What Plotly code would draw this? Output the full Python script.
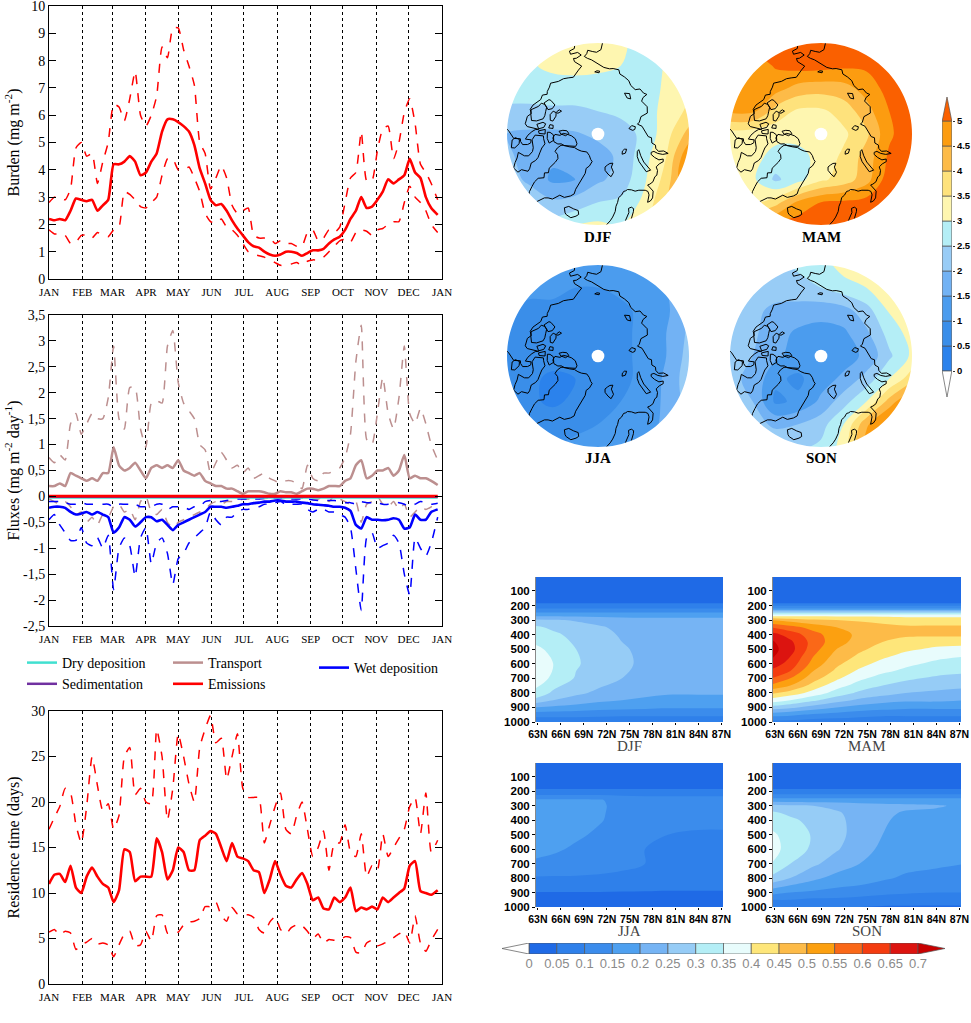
import math
import plotly.graph_objects as go

W, H = 971, 1023
SERIF = "Liberation Serif"
SANS = "Liberation Sans"

# ---------------- time-series data (day of year) ----------------
DAYS = [0, 5, 10, 15, 20, 25, 30, 35, 40, 45, 50, 55, 60, 65, 70, 75, 80, 85, 90, 95,
        100, 105, 110, 115, 120, 125, 130, 135, 140, 145, 150, 155, 160, 165, 170, 175, 180, 185, 190, 195,
        200, 205, 210, 215, 220, 225, 230, 235, 240, 245, 250, 255, 260, 265, 270, 275, 280, 285, 290, 295,
        300, 305, 310, 315, 320, 325, 330, 335, 340, 345, 350, 355, 361]
MONTH_START = [0, 31, 59, 90, 120, 151, 181, 212, 243, 273, 304, 334, 365]
MONTH_LABELS = ["JAN", "FEB", "MAR", "APR", "MAY", "JUN", "JUL", "AUG", "SEP", "OCT", "NOV", "DEC", "JAN"]

BURDEN_MEAN = [2.2, 2.15, 2.2, 2.15, 2.5, 2.95, 2.9, 2.85, 2.9, 2.5,
               2.7, 2.9, 4.2, 4.2, 4.3, 4.5, 4.3, 3.8, 3.9, 4.3,
               4.6, 5.4, 5.85, 5.85, 5.75, 5.6, 5.4, 4.9, 4.05, 3.5,
               2.9, 2.7, 2.75, 2.5, 2.15, 1.85, 1.6, 1.35, 1.2, 1.15,
               1.0, 0.9, 0.85, 0.9, 1.0, 1.0, 0.95, 0.85, 0.95, 1.05,
               1.05, 1.1, 1.3, 1.45, 1.55, 1.8, 2.2, 2.5, 3.0, 2.6,
               2.65, 2.9, 3.2, 3.65, 3.5, 3.65, 3.8, 4.4, 3.9, 3.7,
               3.0, 2.6, 2.35]
BURDEN_HIGH = [2.8, 3.0, 3.0, 2.9, 3.3, 4.8, 5.0, 4.5, 4.6, 3.5,
               4.3, 5.0, 6.4, 6.3, 5.8, 6.6, 7.6, 6.0, 5.6, 6.0,
               6.7, 8.5, 8.1, 9.2, 9.2, 8.4, 7.8, 7.1, 5.0, 4.6,
               3.3, 3.7, 4.15, 3.7, 2.7, 2.4, 2.5, 2.6, 1.6, 1.5,
               1.5, 1.5, 1.3, 1.4, 1.3, 1.3, 1.2, 1.2, 1.7, 1.8,
               1.4, 1.5, 1.8, 1.7, 1.9, 2.8, 3.7, 3.9, 5.4, 3.6,
               3.6, 4.7, 5.5, 5.6, 4.4, 5.0, 6.1, 6.6, 5.7, 4.2,
               3.9, 3.5, 2.9]
BURDEN_LOW = [1.8, 1.65, 1.65, 1.6, 1.3, 1.35, 1.6, 1.6, 1.5, 1.7,
              1.6, 1.55, 1.8, 1.9, 3.2, 3.1, 2.9, 2.65, 2.6, 2.8,
              3.0, 3.8, 4.4, 4.4, 4.0, 4.0, 4.1, 3.7, 3.2, 2.4,
              2.1, 2.05, 2.2, 1.9, 1.8, 1.6, 1.3, 1.0, 0.9, 0.85,
              0.8, 0.7, 0.6, 0.5, 0.5, 0.55, 0.6, 0.5, 0.65, 0.7,
              0.7, 0.8, 1.0, 1.2, 1.4, 1.45, 1.35, 1.7, 1.8, 1.75,
              1.6, 1.8, 1.85, 2.0, 2.1, 2.1, 2.8, 3.4, 3.0, 2.8,
              2.5, 2.0, 1.7]

TRANSPORT_MEAN = [0.2, 0.2, 0.25, 0.2, 0.45, 0.4, 0.35, 0.3, 0.35, 0.3,
                  0.45, 0.45, 0.95, 0.6, 0.5, 0.55, 0.65, 0.5, 0.35, 0.55,
                  0.6, 0.55, 0.6, 0.55, 0.7, 0.5, 0.45, 0.4, 0.45, 0.3,
                  0.25, 0.2, 0.2, 0.15, 0.15, 0.1, 0.05, 0.1, 0.1, 0.1,
                  0.08, 0.05, 0.05, 0.1, 0.08, 0.08, 0.05, 0.1, 0.15, 0.15,
                  0.12, 0.15, 0.2, 0.2, 0.2, 0.3, 0.35, 0.6, 0.7, 0.35,
                  0.4, 0.5, 0.5, 0.55, 0.4, 0.5, 0.8, 0.35, 0.4, 0.35,
                  0.35, 0.3, 0.22]
TRANSPORT_HIGH = [0.75, 0.65, 0.8, 0.7, 1.4, 1.6, 1.2, 1.4, 1.6, 1.5,
                  1.5, 1.9, 2.9, 1.5, 1.3, 2.1, 2.1, 1.3, 0.95, 1.8,
                  1.85, 1.8, 2.9, 3.2, 2.2, 1.8, 1.65, 1.5, 1.0, 0.9,
                  0.45, 0.65, 0.85, 0.7, 0.55, 0.6, 0.45, 0.55, 0.35, 0.4,
                  0.45, 0.35, 0.3, 0.25, 0.3, 0.3, 0.25, 0.15, 0.6, 0.35,
                  0.3, 0.45, 0.45, 0.5, 0.55, 0.75, 1.2, 2.6, 3.3, 1.1,
                  1.0, 1.6, 2.3, 1.6, 1.3, 1.9, 2.9, 1.6, 1.4, 1.7,
                  1.4, 1.0, 0.7]
TRANSPORT_LOW = [-0.05, -0.1, -0.15, -0.1, -0.2, -0.35, -0.3, -0.5, -0.4, -0.55,
                 -0.35, -0.4, -0.2, -0.15, -0.3, -0.25, -0.45, -0.1, 0.0, -0.3,
                 -0.35, -0.25, -0.5, -0.6, -0.5, -0.45, -0.4, -0.35, -0.3, -0.25,
                 -0.15, -0.1, -0.15, -0.1, -0.1, -0.1, -0.05, -0.05, -0.05, -0.05,
                 -0.04, -0.03, -0.03, -0.03, -0.02, -0.04, -0.05, -0.03, -0.08, -0.05,
                 -0.05, 0.0, -0.1, 0.02, -0.05, -0.1, -0.15, -0.1, -0.5, -0.15,
                 -0.1, 0.0, -0.15, -0.2, -0.1, -0.25, -0.15, -0.4, -0.3, -0.2,
                 -0.25, -0.2, -0.1]
WET_MEAN = [-0.22, -0.2, -0.2, -0.22, -0.3, -0.35, -0.33, -0.3, -0.35, -0.3,
            -0.35, -0.4, -0.7, -0.6, -0.4, -0.45, -0.58, -0.5, -0.4, -0.4,
            -0.48, -0.45, -0.55, -0.65, -0.55, -0.5, -0.45, -0.4, -0.35, -0.3,
            -0.2, -0.2, -0.2, -0.22, -0.2, -0.18, -0.15, -0.15, -0.13, -0.12,
            -0.1, -0.1, -0.08, -0.08, -0.1, -0.1, -0.1, -0.12, -0.13, -0.15,
            -0.16, -0.17, -0.18, -0.2, -0.2, -0.22, -0.28, -0.55, -0.62, -0.4,
            -0.45, -0.45, -0.46, -0.45, -0.42, -0.45, -0.62, -0.6, -0.35, -0.45,
            -0.45, -0.3, -0.25]
WET_HIGH = [-0.1, -0.1, -0.1, -0.12, -0.15, -0.15, -0.12, -0.15, -0.15, -0.15,
            -0.15, -0.15, -0.2, -0.15, -0.15, -0.15, -0.15, -0.2, -0.2, -0.2,
            -0.15, -0.15, -0.25, -0.2, -0.2, -0.2, -0.25, -0.2, -0.2, -0.1,
            -0.08, -0.08, -0.1, -0.08, -0.06, -0.05, -0.05, -0.05, -0.05, -0.05,
            -0.04, -0.03, -0.03, -0.03, -0.04, -0.05, -0.05, -0.05, -0.05, -0.07,
            -0.08, -0.08, -0.08, -0.08, -0.1, -0.12, -0.12, -0.15, -0.1, -0.12,
            -0.12, -0.12, -0.15, -0.15, -0.12, -0.12, -0.15, -0.2, -0.15, -0.1,
            -0.12, -0.15, -0.13]
WET_LOW = [-0.45, -0.35, -0.55, -0.7, -0.85, -0.85, -0.6, -0.9, -0.95, -0.8,
           -1.0, -0.75, -1.8, -1.0, -0.8, -0.95, -1.55, -0.8, -0.6, -1.3,
           -0.9, -0.8, -1.1, -1.7, -1.2, -1.1, -0.9, -0.8, -0.7, -0.6,
           -0.3, -0.45, -0.55, -0.4, -0.4, -0.3, -0.25, -0.25, -0.2, -0.2,
           -0.15, -0.15, -0.12, -0.1, -0.15, -0.15, -0.15, -0.15, -0.25, -0.3,
           -0.25, -0.25, -0.3, -0.3, -0.35, -0.4, -0.6, -1.4, -2.2, -0.8,
           -0.7, -1.0, -0.95, -0.9, -0.75, -0.9, -1.5, -1.9, -0.8, -1.0,
           -1.15, -0.9, -0.4]
MONTHLY_DAYS = [0, 31, 59, 90, 120, 151, 181, 212, 243, 273, 304, 334, 361]
DRY_DEP = [-0.02, -0.02, -0.02, -0.02, -0.02, -0.015, -0.01, -0.01, -0.015, -0.02, -0.02, -0.02, -0.02]
SEDIMENTATION = [-0.005, -0.005, -0.005, -0.005, -0.005, -0.005, -0.003, -0.003, -0.003, -0.005, -0.005, -0.005, -0.005]
EMISSIONS = [0.005, 0.005, 0.005, 0.005, 0.005, 0.005, 0.005, 0.005, 0.005, 0.005, 0.005, 0.005, 0.005]

RES_MEAN = [11.0, 12.0, 12.1, 11.2, 13.0, 10.6, 10.0, 11.8, 12.8, 11.8,
            11.0, 10.6, 9.0, 10.3, 14.8, 14.5, 11.3, 11.8, 11.8, 11.8,
            16.0, 14.5, 11.5, 12.5, 15.0, 14.5, 12.5, 12.5, 15.8, 16.3,
            16.8, 16.5, 15.0, 13.5, 15.5, 14.0, 13.8, 13.5, 12.5, 12.3,
            10.0, 11.5, 13.5, 12.0, 10.8, 10.6, 11.5, 12.2, 11.0, 9.2,
            9.5, 8.3, 8.2, 9.5, 9.0, 9.5, 10.6, 8.0, 8.4, 8.2,
            8.5, 8.2, 9.5, 9.0, 9.5, 10.0, 10.5, 13.0, 13.5, 10.2,
            10.0, 9.8, 10.3]
RES_HIGH = [17.0, 18.3, 19.5, 21.5, 21.0, 17.5, 15.5, 19.5, 25.0, 21.8,
            19.0, 19.8, 17.0, 18.5, 25.0, 26.0, 20.8, 21.5, 20.0, 19.8,
            28.0, 25.0, 18.0, 21.5, 27.5, 25.0, 22.0, 20.0, 26.0, 28.0,
            29.5, 26.5, 27.0, 22.5, 25.0, 27.5, 21.5, 20.5, 20.5, 20.5,
            15.5, 17.5, 19.5, 21.0, 17.0, 16.5, 18.5, 20.0, 17.0, 14.0,
            15.0, 16.8, 12.5, 15.5, 15.5, 17.5, 14.5, 14.0, 16.5, 11.8,
            13.0, 12.5, 16.5, 14.0, 15.0, 16.0, 17.0, 19.5, 20.5, 16.5,
            21.0, 14.5, 15.8]
RES_LOW = [5.7, 6.0, 5.4, 5.8, 5.6, 3.8, 4.3, 4.6, 5.0, 4.4,
           4.5, 4.3, 3.0, 4.3, 5.5, 5.8, 4.2, 4.3, 5.8, 4.7,
           7.5, 7.6, 5.6, 5.7, 5.7, 6.5, 6.8, 6.9, 7.2, 8.5,
           8.5, 9.0, 7.5, 6.9, 8.4, 7.7, 7.6, 7.6, 7.3, 6.0,
           5.6, 6.8, 7.4, 6.0, 5.5, 6.2, 6.5, 6.4, 5.8, 5.0,
           5.5, 4.5, 4.9, 4.8, 4.8, 5.2, 5.1, 3.5, 3.4, 4.5,
           4.8, 4.2, 4.4, 4.7, 5.1, 5.5, 5.8, 4.5, 7.5, 4.5,
           3.6, 4.8, 6.0]

FLUX_TICKS = [-2.5, -2, -1.5, -1, -0.5, 0, 0.5, 1, 1.5, 2, 2.5, 3, 3.5]
FLUX_TICKTEXT = ["-2,5", "-2", "-1,5", "-1", "-0,5", "0", "0,5", "1", "1,5", "2", "2,5", "3", "3,5"]

# ---------------- polar maps (grid x,y in units of map radius, rows from top) ----------------
MAP_GRID = [-1, -0.75, -0.5, -0.25, 0, 0.25, 0.5, 0.75, 1]
MAP_LEVELS = [0, 0.5, 1, 1.5, 2, 2.5, 3, 3.5, 4, 4.5, 5]
MAP_TICKTEXT = ["0", "0.5", "1", "1.5", "2", "2.5", "3", "3.5", "4", "4.5", "5"]
MAP_COLORS = ["#ffffff", "#2b82ec", "#3a8ee9", "#4b9cee", "#72b2f4", "#98ccf6",
              "#b4eef6", "#fef6b0", "#fee27c", "#fdbb48", "#fc9c10", "#fa6000"]
MAP_DJF = [
    [2.9, 3.0, 3.1, 3.2, 3.2, 3.1, 2.8, 3.0, 3.3],
    [2.8, 2.95, 3.1, 3.15, 3.1, 3.0, 2.7, 3.05, 3.3],
    [2.6, 2.7, 2.8, 2.8, 2.8, 2.7, 2.7, 3.1, 3.4],
    [2.45, 2.4, 2.4, 2.4, 2.5, 2.6, 2.7, 3.2, 3.6],
    [2.0, 1.9, 1.9, 1.95, 2.1, 2.3, 2.6, 3.3, 4.2],
    [2.1, 1.8, 1.6, 1.6, 1.8, 2.1, 2.8, 3.5, 5.0],
    [2.2, 1.9, 1.4, 1.5, 1.9, 2.2, 2.9, 3.7, 5.2],
    [2.4, 2.3, 2.1, 2.2, 2.5, 2.6, 3.1, 4.0, 4.5],
    [2.6, 2.6, 2.7, 3.0, 3.1, 3.0, 3.3, 4.2, 4.5],
]
MAP_MAM = [
    [5.0, 5.2, 5.4, 5.5, 5.5, 5.5, 5.5, 5.6, 5.6],
    [4.7, 4.7, 5.05, 5.2, 5.2, 5.1, 5.1, 5.4, 5.5],
    [4.6, 4.7, 4.7, 4.3, 4.2, 4.3, 4.7, 5.2, 5.5],
    [4.6, 4.6, 3.8, 3.4, 3.4, 3.7, 4.3, 5.0, 5.4],
    [3.3, 3.2, 3.2, 3.2, 3.2, 3.4, 3.9, 4.9, 5.4],
    [3.3, 3.2, 2.8, 2.8, 3.2, 3.6, 4.2, 5.1, 5.5],
    [3.4, 3.1, 2.4, 2.8, 3.4, 3.7, 4.3, 5.3, 5.6],
    [4.0, 3.5, 3.8, 4.6, 5.0, 5.1, 5.2, 5.5, 5.6],
    [4.6, 4.8, 5.1, 5.3, 5.4, 5.4, 5.5, 5.6, 5.6],
]
MAP_JJA = [
    [1.2, 1.3, 1.3, 1.2, 1.2, 1.2, 1.3, 1.6, 2.0],
    [1.1, 1.1, 1.1, 1.0, 1.0, 1.1, 1.3, 1.5, 1.9],
    [1.0, 0.9, 0.9, 0.9, 0.9, 0.9, 1.1, 1.4, 2.0],
    [0.9, 0.8, 0.8, 0.8, 0.8, 0.9, 1.1, 1.5, 2.1],
    [0.8, 0.7, 0.7, 0.7, 0.8, 0.9, 1.1, 1.5, 2.2],
    [0.7, 0.6, 0.4, 0.5, 0.8, 0.9, 1.1, 1.6, 2.3],
    [0.8, 0.6, 0.4, 0.6, 0.9, 1.0, 1.2, 1.6, 2.2],
    [1.0, 0.9, 0.8, 0.9, 1.0, 1.1, 1.3, 1.6, 2.0],
    [1.1, 1.1, 1.0, 1.1, 1.1, 1.2, 1.4, 1.7, 2.0],
]
MAP_SON = [
    [2.0, 2.1, 2.3, 2.6, 2.8, 3.2, 3.4, 3.5, 3.5],
    [2.1, 2.2, 2.2, 2.3, 2.5, 2.8, 3.0, 3.3, 3.4],
    [2.1, 2.1, 1.9, 1.8, 1.7, 1.8, 2.3, 3.05, 3.2],
    [2.2, 2.1, 1.7, 1.4, 1.3, 1.4, 1.9, 2.7, 3.2],
    [2.1, 2.0, 1.6, 1.3, 1.2, 1.3, 1.6, 2.4, 3.1],
    [2.1, 1.9, 1.1, 0.9, 1.3, 1.6, 2.2, 3.0, 3.8],
    [2.2, 2.0, 0.9, 1.1, 1.6, 2.3, 3.0, 4.2, 5.2],
    [2.3, 2.2, 1.9, 2.0, 2.3, 3.0, 4.4, 5.3, 5.6],
    [2.4, 2.4, 2.4, 2.4, 2.6, 3.2, 4.8, 5.5, 5.6],
]

# coastlines (lon, lat)
GREENLAND = [(-73, 78.3), (-72, 79), (-66, 80.5), (-60, 81.8), (-52, 82.3), (-44, 82.8), (-32, 83.6),
             (-22, 83), (-16, 82), (-12, 81.5), (-15, 80), (-19, 79), (-18, 77.5), (-19.5, 76), (-20, 75),
             (-21.5, 73.5), (-22, 72), (-21.7, 70.5), (-24, 69.5), (-28, 68.3), (-32, 68.2), (-35, 66),
             (-38, 65.5), (-40, 64.8), (-41, 63.5), (-42.5, 62), (-48, 61.5), (-50, 63), (-51.5, 64.5),
             (-53, 66), (-53.5, 67.5), (-51, 69), (-54, 70), (-52, 71), (-55, 72), (-56.5, 74.5),
             (-58.5, 75.8), (-63, 76.3), (-68, 76), (-71, 77), (-73, 78.3)]
ICELAND = [(-24.5, 65.5), (-22, 66.4), (-18, 66.2), (-14.5, 66.1), (-13.5, 65), (-15, 64.3), (-18, 63.4),
           (-21.5, 63.8), (-22.7, 64.2), (-24.5, 65.5)]
SVALBARD = [(11, 78.8), (12, 79.8), (17, 80.2), (22, 80.4), (27, 80.1), (22, 79.2), (22, 77.5), (17, 76.5),
            (14, 77.5), (11, 78.8)]
NOVAYA_ZEMLYA = [(52, 71.5), (54, 73.5), (56, 75), (60, 76.3), (66, 77), (69, 76.8), (63, 75.5), (58.5, 73.8),
                 (57, 72.5), (55.5, 70.7), (52, 71.5)]
FRANZ_JOSEF = [(50, 80.5), (55, 81), (60, 80.8), (62, 80.2), (55, 79.9), (50, 80.5)]
SEVERNAYA = [(96, 79.5), (100, 80.5), (104, 79.5), (101, 78.5), (97, 78.8), (96, 79.5)]
NEW_SIBERIAN = [(137, 75.5), (141, 76), (147, 75.3), (142, 74.5), (137, 75.5)]
WRANGEL = [(179, 71.5), (-177, 71.2), (-179, 70.9), (178.5, 71), (179, 71.5)]
EURASIA = [(5, 61.5), (5.5, 62.5), (8, 63.5), (10, 64.5), (12.5, 66), (14, 67.5), (16, 68.5), (18, 69.8),
           (21, 70.2), (24, 71), (26, 70.9), (28, 71), (31, 70.3), (33, 69.4), (36, 69), (40, 67.8),
           (41, 67), (40, 66), (36, 64.5), (38, 64.3), (40.5, 64.6), (44, 66), (44.2, 68.5), (46, 68.2),
           (49, 68), (53, 68.5), (55, 68.3), (58.5, 68.9), (60.5, 69.8), (64, 69.4), (67, 68.6), (69, 68.9),
           (67, 70), (67.5, 71.5), (69, 72.8), (71, 73), (72.7, 72.3), (72, 71), (72.5, 69.5), (74.5, 68),
           (75.5, 69.5), (74, 71), (76, 72), (79, 72.3), (80.5, 73.5), (86, 73.8), (87, 74.8), (95, 76),
           (100, 76.5), (104, 77.7), (106, 77), (112, 76), (113, 73.8), (119, 73), (123, 73.4), (127, 73.5),
           (129, 72.5), (129, 71), (132, 71.5), (137, 71.4), (140, 72.5), (146, 72.3), (150, 71.4),
           (155, 71), (160, 70.7), (162, 69.6), (167, 69.7), (170, 70), (175, 69.8), (180, 68.8),
           (-178, 68.3), (-175, 67.5), (-172, 66.9), (-170, 66.2), (-172, 65.5), (-173, 64.5), (-176, 65),
           (-179, 65.3), (178, 64.5), (177, 62)]
BOTHNIA = [(17.5, 62.5), (19.5, 63.6), (21.5, 64.5), (22.3, 65.7), (24.5, 65.7), (25.5, 65), (24.5, 64.2),
           (21.5, 62.5)]
N_AMERICA = [(-165.5, 62), (-164.5, 63.2), (-161, 63.5), (-161, 64.5), (-166, 64.6), (-168, 65.6),
             (-164, 66.2), (-162, 66), (-162, 67), (-164.5, 68.3), (-166.5, 68.9), (-163, 69.8),
             (-160, 70.5), (-156.5, 71.3), (-152, 70.8), (-148, 70.3), (-143, 70.1), (-141, 69.7),
             (-137, 69), (-134, 69.6), (-130, 70), (-128, 70.5), (-125, 69.5), (-121, 69.8), (-117, 69),
             (-114, 68.5), (-110, 68.2), (-107, 68.9), (-104, 68), (-98, 67.8), (-96, 68.5), (-95, 71.8),
             (-94.5, 72), (-94, 71), (-92, 70), (-89, 68.8), (-86, 68), (-85, 69.7), (-82.5, 69.5),
             (-81.5, 68.5), (-82, 67), (-84.5, 66.5), (-86.5, 66.5), (-87, 64.5), (-89, 64), (-92, 63),
             (-94, 62)]
SOUTHAMPTON = [(-86, 64), (-81, 63.5), (-80.5, 64.5), (-83, 66), (-86, 66.2), (-87.5, 65), (-86, 64)]
BAFFIN = [(-79.5, 73.7), (-76, 72.5), (-72, 71.5), (-68.5, 70.5), (-67, 69.5), (-66.5, 68), (-63, 66.8),
          (-62, 66), (-65, 64.5), (-64.5, 63.2), (-68, 62.5), (-71, 63.5), (-73.5, 64.5), (-77, 65.3),
          (-73.5, 66.8), (-72.5, 68), (-75, 69.5), (-78, 70), (-85, 70), (-89, 71), (-88, 73.5),
          (-85, 73.5), (-79.5, 73.7)]
ELLESMERE = [(-90, 80.5), (-86, 82), (-78, 83), (-65, 83), (-61, 82.3), (-68, 80.5), (-71, 79.2),
             (-75, 78.5), (-76, 77.5), (-80, 76.5), (-85, 76.3), (-89.5, 77), (-88, 78.5), (-91, 79.5),
             (-90, 80.5)]
DEVON = [(-92, 75.5), (-89, 76.5), (-82, 76.5), (-79.5, 75), (-85, 74.6), (-92, 74.7), (-92, 75.5)]
AXEL_HEIBERG = [(-96, 80.5), (-91, 81.2), (-87, 80.2), (-90, 78.8), (-94, 78.2), (-96, 79.3), (-96, 80.5)]
PRINCE_OF_WALES = [(-97, 73.5), (-95, 72), (-99, 71.3), (-102, 73), (-101, 73.9), (-97, 73.5)]
SOMERSET = [(-95, 74), (-90, 74), (-90.5, 72.2), (-93, 72), (-95, 74)]
BATHURST = [(-101, 76.2), (-97, 76.3), (-97, 75), (-101, 75.2), (-101, 76.2)]
MELVILLE = [(-117, 75.8), (-113, 76.2), (-106, 75.8), (-106, 75), (-112, 74.4), (-117, 74.8), (-117, 75.8)]
BANKS = [(-125, 71.9), (-120, 71.2), (-116, 73.2), (-119, 74.2), (-124, 74.3), (-125.5, 72.5), (-125, 71.9)]
VICTORIA = [(-118.5, 70.5), (-115, 70.2), (-110, 68.5), (-106, 68.9), (-101.5, 69.5), (-102, 71),
            (-105.5, 72.8), (-109, 73), (-113, 72.8), (-117.5, 72.5), (-119, 71.5), (-118.5, 70.5)]
PRINCE_PATRICK = [(-122, 77), (-117, 76.3), (-118, 75.8), (-122, 76.2), (-122, 77)]
COASTS = [GREENLAND, ICELAND, SVALBARD, NOVAYA_ZEMLYA, FRANZ_JOSEF, SEVERNAYA, NEW_SIBERIAN, WRANGEL,
          EURASIA, BOTHNIA, N_AMERICA, SOUTHAMPTON, BAFFIN, ELLESMERE, DEVON, AXEL_HEIBERG,
          PRINCE_OF_WALES, SOMERSET, BATHURST, MELVILLE, BANKS, VICTORIA, PRINCE_PATRICK]
EDGE_LAT = 62.5

# ---------------- cross sections ----------------
XS_LAT = [62.5, 65, 68, 71, 74, 77, 80, 84, 88]
XS_P = [0, 100, 180, 220, 260, 300, 350, 400, 500, 600, 700, 800, 850, 900, 950, 1000]
XS_LAT_TICKS = [63, 66, 69, 72, 75, 78, 81, 84, 87]
XS_LAT_LABELS = ["63N", "66N", "69N", "72N", "75N", "78N", "81N", "84N", "87N"]
XS_P_TICKS = [100, 200, 300, 400, 500, 600, 700, 800, 900, 1000]
XS_LEVELS = [0, 0.05, 0.1, 0.15, 0.2, 0.25, 0.3, 0.35, 0.4, 0.45, 0.5, 0.55, 0.6, 0.65, 0.7]
XS_TICKTEXT = ["0", "0.05", "0.1", "0.15", "0.2", "0.25", "0.3", "0.35", "0.4", "0.45", "0.5",
               "0.55", "0.6", "0.65", "0.7"]
XS_COLORS = ["#ffffff", "#1f6ae6", "#2f80ea", "#3b8cec", "#4ea0f0", "#76b4f4", "#96ccf6", "#b4eef6",
             "#e8fcfc", "#fee67a", "#fdbb48", "#fca010", "#fa6818", "#f43c10", "#dc1410", "#c80000"]
XS_DJF = [
    [0.03] * 9, [0.03] * 9, [0.045] * 9, [0.1] * 9, [0.17] * 9,
    [0.26, 0.255, 0.245, 0.235, 0.225, 0.22, 0.22, 0.22, 0.22],
    [0.31, 0.29, 0.27, 0.255, 0.24, 0.23, 0.225, 0.225, 0.225],
    [0.33, 0.31, 0.285, 0.265, 0.245, 0.235, 0.23, 0.23, 0.23],
    [0.36, 0.34, 0.3, 0.275, 0.255, 0.24, 0.235, 0.235, 0.235],
    [0.38, 0.35, 0.305, 0.28, 0.26, 0.24, 0.235, 0.235, 0.235],
    [0.38, 0.34, 0.295, 0.27, 0.25, 0.235, 0.23, 0.23, 0.23],
    [0.34, 0.29, 0.26, 0.24, 0.225, 0.215, 0.205, 0.205, 0.205],
    [0.29, 0.25, 0.23, 0.21, 0.2, 0.19, 0.185, 0.185, 0.185],
    [0.2, 0.19, 0.18, 0.17, 0.165, 0.16, 0.155, 0.155, 0.155],
    [0.12, 0.12, 0.12, 0.115, 0.11, 0.11, 0.11, 0.11, 0.11],
    [0.06] * 9,
]
XS_JJA = [
    [0.03] * 9, [0.03] * 9, [0.045] * 9, [0.09] * 9,
    [0.16, 0.16, 0.16, 0.155, 0.13, 0.12, 0.12, 0.12, 0.12],
    [0.18, 0.18, 0.17, 0.16, 0.13, 0.12, 0.12, 0.12, 0.12],
    [0.18, 0.18, 0.17, 0.158, 0.13, 0.12, 0.118, 0.115, 0.115],
    [0.18, 0.18, 0.17, 0.155, 0.13, 0.12, 0.115, 0.11, 0.11],
    [0.18, 0.17, 0.16, 0.14, 0.12, 0.11, 0.1, 0.095, 0.095],
    [0.17, 0.16, 0.14, 0.13, 0.115, 0.1, 0.095, 0.09, 0.09],
    [0.14, 0.13, 0.125, 0.12, 0.11, 0.1, 0.09, 0.09, 0.09],
    [0.095, 0.095, 0.095, 0.093, 0.09, 0.085, 0.08, 0.08, 0.08],
    [0.075, 0.075, 0.075, 0.073, 0.07, 0.068, 0.065, 0.065, 0.065],
    [0.048, 0.048, 0.048, 0.048, 0.047, 0.046, 0.045, 0.045, 0.045],
    [0.04] * 9,
    [0.03] * 9,
]
XS_SON = [
    [0.03] * 9, [0.03] * 9, [0.045] * 9, [0.1] * 9, [0.17] * 9,
    [0.27, 0.26, 0.25, 0.24, 0.225, 0.215, 0.21, 0.205, 0.19],
    [0.31, 0.29, 0.27, 0.255, 0.235, 0.21, 0.195, 0.19, 0.185],
    [0.33, 0.31, 0.285, 0.26, 0.235, 0.205, 0.19, 0.185, 0.18],
    [0.36, 0.33, 0.295, 0.265, 0.23, 0.2, 0.185, 0.18, 0.175],
    [0.37, 0.33, 0.29, 0.255, 0.22, 0.19, 0.175, 0.17, 0.165],
    [0.35, 0.3, 0.26, 0.225, 0.2, 0.175, 0.16, 0.155, 0.15],
    [0.29, 0.25, 0.21, 0.185, 0.17, 0.155, 0.145, 0.14, 0.135],
    [0.23, 0.2, 0.18, 0.16, 0.15, 0.14, 0.13, 0.125, 0.12],
    [0.17, 0.15, 0.14, 0.13, 0.12, 0.11, 0.105, 0.1, 0.1],
    [0.1, 0.1, 0.09, 0.09, 0.085, 0.08, 0.075, 0.07, 0.07],
    [0.06, 0.06, 0.05, 0.05, 0.05, 0.045, 0.045, 0.045, 0.045],
]
XS_P_MAM = [0, 100, 180, 220, 250, 270, 300, 350, 400, 450, 500, 550, 600, 650, 700, 750, 800, 850, 900, 950, 1000]
XS_MAM = [
    [0.03] * 9, [0.03] * 9, [0.04] * 9, [0.15] * 9, [0.3] * 9, [0.39] * 9,
    [0.5, 0.48, 0.46, 0.45, 0.44, 0.43, 0.42, 0.42, 0.42],
    [0.6, 0.57, 0.53, 0.5, 0.49, 0.47, 0.46, 0.46, 0.46],
    [0.67, 0.63, 0.57, 0.52, 0.49, 0.47, 0.46, 0.46, 0.46],
    [0.71, 0.66, 0.58, 0.52, 0.48, 0.45, 0.43, 0.42, 0.42],
    [0.72, 0.67, 0.57, 0.5, 0.46, 0.43, 0.41, 0.39, 0.38],
    [0.71, 0.65, 0.55, 0.48, 0.44, 0.41, 0.38, 0.36, 0.35],
    [0.68, 0.63, 0.53, 0.46, 0.42, 0.38, 0.36, 0.34, 0.33],
    [0.64, 0.6, 0.5, 0.44, 0.39, 0.36, 0.34, 0.32, 0.31],
    [0.6, 0.55, 0.47, 0.41, 0.36, 0.33, 0.31, 0.29, 0.28],
    [0.54, 0.5, 0.43, 0.37, 0.33, 0.3, 0.28, 0.27, 0.26],
    [0.46, 0.43, 0.38, 0.33, 0.29, 0.27, 0.25, 0.24, 0.23],
    [0.38, 0.35, 0.31, 0.27, 0.24, 0.22, 0.21, 0.21, 0.2],
    [0.28, 0.26, 0.23, 0.2, 0.18, 0.17, 0.16, 0.16, 0.16],
    [0.17, 0.16, 0.14, 0.13, 0.12, 0.11, 0.11, 0.11, 0.11],
    [0.08, 0.08, 0.07, 0.07, 0.06, 0.06, 0.06, 0.06, 0.06],
]


# ---------------- helpers ----------------
def fx(px):
    return px / W


def fy(py):
    return 1 - py / H


def xdom(a, b):
    return [fx(a), fx(b)]


def ydom(top, bottom):
    return [fy(bottom), fy(top)]


def cscale(colors):
    n = len(colors) - 1
    return [[i / n, c] for i, c in enumerate(colors)]


def label(text, px, py, font, angle=0):
    return dict(text=text, x=fx(px), y=fy(py), xref="paper", yref="paper", xanchor="center",
                yanchor="middle", textangle=angle, showarrow=False, font=font)


fig = go.Figure()
layout = dict(width=W, height=H, margin=dict(l=0, r=0, t=0, b=0), paper_bgcolor="white",
              plot_bgcolor="white", template="none", showlegend=True, hovermode=False)
annotations = []
shapes = []

# ---------------- left line charts ----------------
LINE_PANELS = [
    (1, 6, 279, [0, 10], list(range(0, 11)), [str(v) for v in range(0, 11)], "Burden (mg m<sup>-2</sup>)"),
    (2, 315, 626, [-2.5, 3.5], FLUX_TICKS, FLUX_TICKTEXT, "Fluxes (mg m<sup>-2</sup> day<sup>-1</sup>)"),
    (3, 711, 984, [0, 30], [0, 5, 10, 15, 20, 25, 30], ["0", "5", "10", "15", "20", "25", "30"],
     "Residence time (days)"),
]
for idx, top, bot, yr, tv, tt, title in LINE_PANELS:
    sfx = "" if idx == 1 else str(idx)
    layout["xaxis" + sfx] = dict(domain=xdom(49, 442), anchor="y" + sfx, range=[0, 365],
                                 tickvals=MONTH_START, ticktext=MONTH_LABELS, showgrid=True,
                                 gridcolor="black", griddash="dot", gridwidth=1, showline=True,
                                 linecolor="black", linewidth=1, mirror=True, ticks="", zeroline=False,
                                 ticklabeloverflow="allow", ticklabelstandoff=3,
                                 tickfont=dict(family=SERIF, size=11, color="black"))
    layout["yaxis" + sfx] = dict(domain=ydom(top, bot), anchor="x" + sfx, range=yr, tickvals=tv,
                                 ticktext=tt, showgrid=False, zeroline=False, showline=True,
                                 linecolor="black", linewidth=1, mirror="ticks", ticks="inside",
                                 ticklen=7, tickcolor="black", ticklabeloverflow="allow",
                                 tickfont=dict(family=SERIF, size=14, color="black"))
    annotations.append(label(title, 13, (top + bot) / 2, dict(family=SERIF, size=16, color="black"), -90))

RED = "#ff0000"
BROWN = "#bc8f8f"
BLUE = "#0000ff"
SMOOTH = dict(shape="spline", smoothing=0.5)
for ys, w, dash in [(BURDEN_HIGH, 1.5, "dash"), (BURDEN_LOW, 1.5, "dash"), (BURDEN_MEAN, 2.6, "solid")]:
    fig.add_trace(go.Scatter(x=DAYS, y=ys, mode="lines", line=dict(color=RED, width=w, dash=dash, **SMOOTH),
                             xaxis="x", yaxis="y", showlegend=False, hoverinfo="skip"))
for ys, c in [(TRANSPORT_HIGH, BROWN), (TRANSPORT_LOW, BROWN), (WET_HIGH, BLUE), (WET_LOW, BLUE)]:
    fig.add_trace(go.Scatter(x=DAYS, y=ys, mode="lines", line=dict(color=c, width=1.5, dash="dash", **SMOOTH),
                             xaxis="x2", yaxis="y2", showlegend=False, hoverinfo="skip"))
fig.add_trace(go.Scatter(x=MONTHLY_DAYS, y=DRY_DEP, mode="lines", name="Dry deposition", legend="legend",
                         line=dict(color="#40e0d0", width=2.5), xaxis="x2", yaxis="y2"))
fig.add_trace(go.Scatter(x=MONTHLY_DAYS, y=SEDIMENTATION, mode="lines", name="Sedimentation", legend="legend",
                         line=dict(color="#7030a0", width=2.5), xaxis="x2", yaxis="y2"))
fig.add_trace(go.Scatter(x=DAYS, y=TRANSPORT_MEAN, mode="lines", name="Transport", legend="legend2",
                         line=dict(color=BROWN, width=2.5, **SMOOTH), xaxis="x2", yaxis="y2"))
fig.add_trace(go.Scatter(x=DAYS, y=WET_MEAN, mode="lines", name="Wet deposition", legend="legend3",
                         line=dict(color=BLUE, width=2.6, **SMOOTH), xaxis="x2", yaxis="y2"))
fig.add_trace(go.Scatter(x=MONTHLY_DAYS, y=EMISSIONS, mode="lines", name="Emissions", legend="legend2",
                         line=dict(color=RED, width=2.6), xaxis="x2", yaxis="y2"))
for ys, w, dash in [(RES_HIGH, 1.5, "dash"), (RES_LOW, 1.5, "dash"), (RES_MEAN, 2.6, "solid")]:
    fig.add_trace(go.Scatter(x=DAYS, y=ys, mode="lines", line=dict(color=RED, width=w, dash=dash, **SMOOTH),
                             xaxis="x3", yaxis="y3", showlegend=False, hoverinfo="skip"))

LEG_FONT = dict(family=SERIF, size=14, color="black")
for name, lx, ly in [("legend", 22, 647), ("legend2", 168, 647), ("legend3", 314, 652)]:
    layout[name] = dict(orientation="v", x=fx(lx), y=fy(ly), xanchor="left", yanchor="top",
                        itemwidth=30, tracegroupgap=0, traceorder="normal", font=LEG_FONT,
                        bgcolor="rgba(0,0,0,0)", borderwidth=0)

# ---------------- polar maps ----------------
def project(seg):
    xs, ys = [], []
    for lon, lat in seg:
        r = (90 - lat) / (90 - EDGE_LAT)
        t = math.radians(lon - 90)
        xs.append(r * math.cos(t))
        ys.append(r * math.sin(t))
    return xs, ys


coast_x, coast_y = [], []
for seg in COASTS:
    xs, ys = project(seg)
    coast_x += xs + [None]
    coast_y += ys + [None]

mask_pts = []
for i in range(120):
    a = 2 * math.pi * i / 120
    mask_pts.append(f"{math.cos(a):.4f},{math.sin(a):.4f}")
MASK_PATH = "M-1,-1 L1,-1 L1,1 L-1,1 Z M" + " L".join(mask_pts) + " Z"

MAP_PANELS = [(4, MAP_DJF, 598, 134, "DJF", 237), (5, MAP_MAM, 821, 134, "MAM", 237),
              (6, MAP_JJA, 598, 356, "JJA", 458), (7, MAP_SON, 821, 356, "SON", 458)]
R_PX = 91
for idx, field, cx, cy, name, ly in MAP_PANELS:
    xa, ya = "x%d" % idx, "y%d" % idx
    layout["xaxis%d" % idx] = dict(domain=xdom(cx - R_PX, cx + R_PX), anchor=ya, range=[-1, 1],
                                   visible=False, fixedrange=True)
    layout["yaxis%d" % idx] = dict(domain=ydom(cy - R_PX, cy + R_PX), anchor=xa, range=[-1, 1],
                                   visible=False, fixedrange=True)
    fig.add_trace(go.Contour(x=MAP_GRID, y=MAP_GRID, z=field[::-1], xaxis=xa, yaxis=ya,
                             autocontour=False,
                             contours=dict(start=0, end=5, size=0.5, coloring="fill", showlines=False),
                             line=dict(width=0, smoothing=1.0), colorscale=cscale(MAP_COLORS),
                             showscale=False, showlegend=False, hoverinfo="skip"))
    fig.add_trace(go.Scatter(x=coast_x, y=coast_y, mode="lines", line=dict(color="black", width=1),
                             xaxis=xa, yaxis=ya, showlegend=False, hoverinfo="skip"))
    shapes.append(dict(type="path", path=MASK_PATH, xref=xa, yref=ya, fillcolor="white",
                       line=dict(width=0), fillrule="evenodd", layer="above"))
    shapes.append(dict(type="circle", xref=xa, yref=ya, x0=-0.07, x1=0.07, y0=-0.07, y1=0.07,
                       fillcolor="white", line=dict(width=0), layer="above"))
    annotations.append(label("<b>%s</b>" % name, cx, ly, dict(family=SERIF, size=15, color="black")))

# vertical colorbar for maps
layout["xaxis8"] = dict(domain=xdom(942, 952), anchor="y8", range=[-0.02, 1.02], visible=False,
                        fixedrange=True)
layout["yaxis8"] = dict(domain=ydom(97, 397), anchor="x8", range=[-0.52, 5.48], side="right",
                        tickvals=MAP_LEVELS, ticktext=MAP_TICKTEXT, ticks="outside", ticklen=2,
                        tickcolor="#333", showgrid=False, zeroline=False, showline=False,
                        ticklabeloverflow="allow",
                        tickfont=dict(family=SANS, size=9.5, color="black", weight="bold"))
fig.add_trace(go.Bar(x=[0.5] * 10, y=[0.5] * 10, base=MAP_LEVELS[:-1], width=1,
                     marker=dict(color=MAP_COLORS[1:11], line=dict(color="#555", width=0.7)),
                     xaxis="x8", yaxis="y8", showlegend=False, hoverinfo="skip"))
fig.add_trace(go.Scatter(x=[0, 1, 0.5, 0], y=[5, 5, 5.48, 5], fill="toself", fillcolor=MAP_COLORS[-1],
                         mode="lines", line=dict(color="#555", width=0.7), xaxis="x8", yaxis="y8",
                         showlegend=False, hoverinfo="skip"))
fig.add_trace(go.Scatter(x=[0, 1, 0.5, 0], y=[0, 0, -0.52, 0], fill="toself", fillcolor=MAP_COLORS[0],
                         mode="lines", line=dict(color="#555", width=0.7), xaxis="x8", yaxis="y8",
                         showlegend=False, hoverinfo="skip"))

# ---------------- cross sections ----------------
XS_PANELS = [(9, XS_DJF, XS_P, 536, 723, 577, 722, "DJF", 746),
             (10, XS_MAM, XS_P_MAM, 773, 961, 577, 722, "MAM", 746),
             (11, XS_JJA, XS_P, 536, 723, 763, 907, "JJA", 931),
             (12, XS_SON, XS_P, 773, 961, 763, 907, "SON", 931)]
for idx, field, prs, x0, x1, y0, y1, name, ly in XS_PANELS:
    xa, ya = "x%d" % idx, "y%d" % idx
    layout["xaxis%d" % idx] = dict(domain=xdom(x0, x1), anchor=ya, range=[62.75, 87.2],
                                   tickvals=XS_LAT_TICKS, ticktext=XS_LAT_LABELS, ticks="outside",
                                   ticklen=2, tickcolor="black", showgrid=False, zeroline=False,
                                   showline=False, fixedrange=True, tickangle=0,
                                   ticklabeloverflow="allow",
                                   tickfont=dict(family=SANS, size=10.5, color="black", weight="bold"))
    layout["yaxis%d" % idx] = dict(domain=ydom(y0, y1), anchor=xa, range=[1000, 4],
                                   tickvals=XS_P_TICKS, ticktext=[str(v) for v in XS_P_TICKS],
                                   ticks="outside", ticklen=3, tickcolor="black", showgrid=False,
                                   zeroline=False, showline=True, linecolor="#888", linewidth=1,
                                   fixedrange=True, ticklabeloverflow="allow",
                                   tickfont=dict(family=SANS, size=11.5, color="black", weight="bold"))
    fig.add_trace(go.Contour(x=XS_LAT, y=prs, z=field, xaxis=xa, yaxis=ya, autocontour=False,
                             contours=dict(start=0, end=0.7, size=0.05, coloring="fill", showlines=False),
                             line=dict(width=0, smoothing=1.0), colorscale=cscale(XS_COLORS),
                             showscale=False, showlegend=False, hoverinfo="skip"))
    annotations.append(label(name, (x0 + x1) / 2, ly, dict(family=SERIF, size=15, color="#444")))

# horizontal colorbar for cross sections
layout["xaxis13"] = dict(domain=xdom(502, 945), anchor="y13", range=[-0.0486, 0.7486], tickvals=XS_LEVELS,
                         ticktext=XS_TICKTEXT, ticks="", showgrid=False, zeroline=False, showline=False,
                         fixedrange=True, ticklabeloverflow="allow",
                         tickfont=dict(family=SANS, size=13, color="#8a8a8a"))
layout["yaxis13"] = dict(domain=ydom(943, 954), anchor="x13", range=[-0.5, 0.5], visible=False,
                         fixedrange=True)
fig.add_trace(go.Bar(y=[0] * 14, x=[0.05] * 14, base=XS_LEVELS[:-1], orientation="h", width=1,
                     marker=dict(color=XS_COLORS[1:15], line=dict(color="#555", width=0.7)),
                     xaxis="x13", yaxis="y13", showlegend=False, hoverinfo="skip"))
fig.add_trace(go.Scatter(x=[0.7, 0.7, 0.7486, 0.7], y=[-0.5, 0.5, 0, -0.5], fill="toself",
                         fillcolor=XS_COLORS[-1], mode="lines", line=dict(color="#555", width=0.7),
                         xaxis="x13", yaxis="y13", showlegend=False, hoverinfo="skip"))
fig.add_trace(go.Scatter(x=[0, 0, -0.0486, 0], y=[-0.5, 0.5, 0, -0.5], fill="toself",
                         fillcolor=XS_COLORS[0], mode="lines", line=dict(color="#555", width=0.7),
                         xaxis="x13", yaxis="y13", showlegend=False, hoverinfo="skip"))

layout["annotations"] = annotations
layout["shapes"] = shapes
layout["barmode"] = "overlay"
fig.update_layout(**layout)
fig.write_html("out.html", config={"displayModeBar": False},
               post_script="document.body.style.margin='0';document.body.style.overflow='hidden';")
